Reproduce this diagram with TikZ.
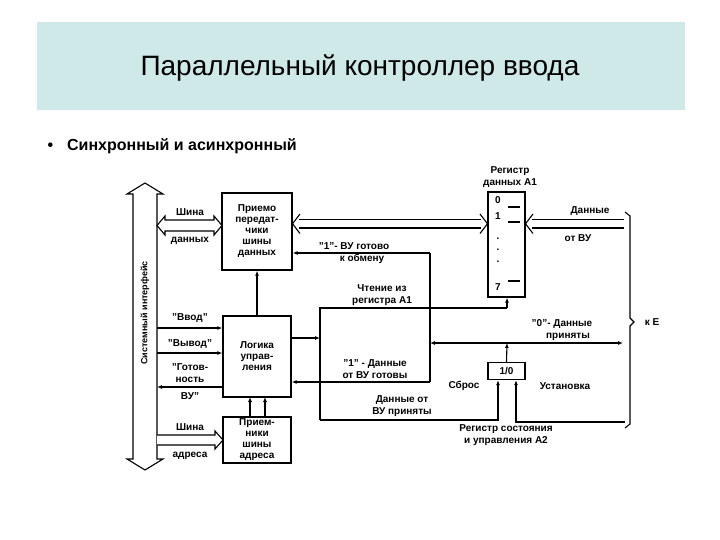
\documentclass[tikz,border=0pt]{standalone}
\usepackage{fontspec}
\setmainfont{Liberation Sans}
\usetikzlibrary{arrows.meta}
\definecolor{band}{RGB}{207,232,232}
\tikzset{
  blk/.style={draw,line width=1.3pt,align=center,inner sep=0pt,font=\bfseries\fontsize{10}{11}\selectfont},
  lbl/.style={align=center,inner sep=0pt,font=\bfseries\fontsize{10}{11.5}\selectfont},
  wire/.style={line width=1.1pt},
  arr/.style={wire,-{Latex[length=5pt,width=4pt]}},
  bus/.style={line width=1.1pt,fill=white,line join=miter}
}
\begin{document}
\begin{tikzpicture}[x=1pt,y=-1pt]
\useasboundingbox (0,0) rectangle (720,540);
\fill[white] (0,0) rectangle (720,540);
\fill[band] (37,22) rectangle (685,110);
\node[font=\fontsize{28}{30}\selectfont] (title) at (360,68) {Параллельный контроллер ввода};
\node[anchor=west,font=\bfseries\fontsize{16}{18}\selectfont] (bullet) at (44,146) {•\hspace{14pt}Синхронный и асинхронный};

% system interface
\draw[bus] (145,183) -- (163,194) -- (157,194) -- (157,459) -- (163,459) -- (145,470) -- (127,459) -- (133,459) -- (133,194) -- (127,194) -- cycle;
\node[lbl,rotate=90,font=\bfseries\fontsize{9}{10}\selectfont] (si) at (145,313) {Системный интерфейс};

% blocks
\node[blk,minimum width=70pt,minimum height=77pt] (trx) at (257,231.5) {Приемо\\передат-\\чики\\шины\\данных};
\node[blk,minimum width=68pt,minimum height=81pt] (logic) at (257,356.5) {Логика\\управ-\\ления};
\node[blk,minimum width=68pt,minimum height=46pt] (addr) at (257,440) {Прием-\\ники\\шины\\адреса};
\node[blk,minimum width=37pt,minimum height=105pt] (rega) at (506.5,244.5) {};
\node[blk,minimum width=37pt,minimum height=17pt] (ff) at (506.5,371) {1/0};

% register contents
\node[lbl] (r0) at (498,200) {0};
\node[lbl] (r1) at (498,216) {1};
\node[lbl] (rd) at (498,250) {.\\.\\.};
\node[lbl] (r7) at (498,287) {7};
\draw[wire] (508,207) -- (520,207);
\draw[wire] (508,222) -- (520,222);
\draw[wire] (508,281) -- (520,281);
\node[lbl] (regt) at (510,177) {Регистр\\данных А1};

% data bus
\draw[bus] (157,225.5) -- (165,216) -- (165,220) -- (214,220) -- (214,216) -- (222,225.5) -- (214,235) -- (214,231) -- (165,231) -- (165,235) -- cycle;
\node[lbl] (sh1) at (190,212) {Шина};
\node[lbl] (dn1) at (190,241) {данных};
% internal bus trx -> rega
\coordinate (b1a) at (299,219.5);
\coordinate (b1b) at (481,219.5);
\coordinate (b2a) at (299,228);
\coordinate (b2b) at (481,228);
\draw[wire] (b1a) -- (b1b);
\draw[wire] (b2a) -- (b2b);
\draw[wire] (300,214) -- (292.5,223.75) -- (300,233.5);
\draw[wire] (480,214) -- (487.5,223.75) -- (480,233.5);
% data from device
\coordinate (d1a) at (532,219.5);
\coordinate (d1b) at (624,219.5);
\coordinate (d2a) at (532,228);
\coordinate (d2b) at (624,228);
\draw[wire] (d1a) -- (d1b);
\draw[wire] (d2a) -- (d2b);
\draw[wire] (533,214) -- (525.5,223.75) -- (533,233.5);
\node[lbl] (dv) at (590,211) {Данные};
\node[lbl] (ov) at (578,238) {от ВУ};

% brace
\draw[wire] (625,212) -- (630,216) -- (630,318) -- (634,322) -- (630,326) -- (630,424) -- (625,428);
\node[lbl] (ke) at (652,322) {к Е};

% address bus
\draw[bus] (157,435) -- (215,435) -- (215,431) -- (223,440) -- (215,449) -- (215,445) -- (157,445);
\node[lbl] (sh2) at (190,427) {Шина};
\node[lbl] (ad2) at (190,456) {адреса};
% addr -> logic
\draw[arr] (250,417) -- (250,397);
\draw[arr] (265,417) -- (265,397);

% logic -> trx
\draw[arr] (logic.north) -- (trx.south);

% left signals
\draw[arr] (157,328) -- (logic.west |- 0,328);
\draw[arr] (157,353) -- (logic.west |- 0,353);
\draw[arr] (logic.west |- 0,387) -- (157,387);
\node[lbl] (vvod) at (190,318) {"Ввод"};
\node[lbl] (vyv) at (190,344) {"Вывод"};
\node[lbl] (got) at (190,373) {"Готов-\\ность};
\node[lbl] (vu) at (190,396) {ВУ"};

% ready to exchange
\coordinate (c430) at (430,253);
\draw[arr] (c430) -- (trx.east |- 0,253);
\draw[wire] (430,343) -- (c430);
\node[lbl] (rdy) at (354,246) {"1"- ВУ готово};
\node[lbl] (obm) at (362,259) {к обмену};

% read A1
\draw[arr] (logic.east |- 0,338) -- (320,338);
\draw[wire] (320,420) -- (320,308) -- (507,308);
\draw[arr] (507,308) -- (rega.south -| 507,0);
\node[lbl] (cht) at (382,295) {Чтение из\\регистра А1};

% data accepted / reset
\draw[arr] (320,420) -- (498,420) -- (ff.south -| 498,0);
\node[lbl] (dpr) at (402,406) {Данные от\\ВУ приняты};
\draw[arr] (625,422) -- (516,422) -- (ff.south -| 516,0);
\node[lbl] (sbr) at (464,386) {Сброс};
\node[lbl] (ust) at (565,386) {Установка};
\node[lbl] (rs) at (506,435) {Регистр состояния\\и управления А2};

% ff output
\draw[arr] (ff.north) -- (507,343);
\draw[arr] (507,343) -- (430,343);
\draw[arr] (507,343) -- (623,343);
\node[lbl] (zero) at (562,330) {"0"- Данные\\ \hspace{12pt}приняты};
\draw[wire] (430,343) -- (430,382);
\draw[arr] (430,382) -- (logic.east |- 0,382);
\node[lbl] (one) at (375,369) {"1" - Данные\\от ВУ готовы};
\end{tikzpicture}
\end{document}
